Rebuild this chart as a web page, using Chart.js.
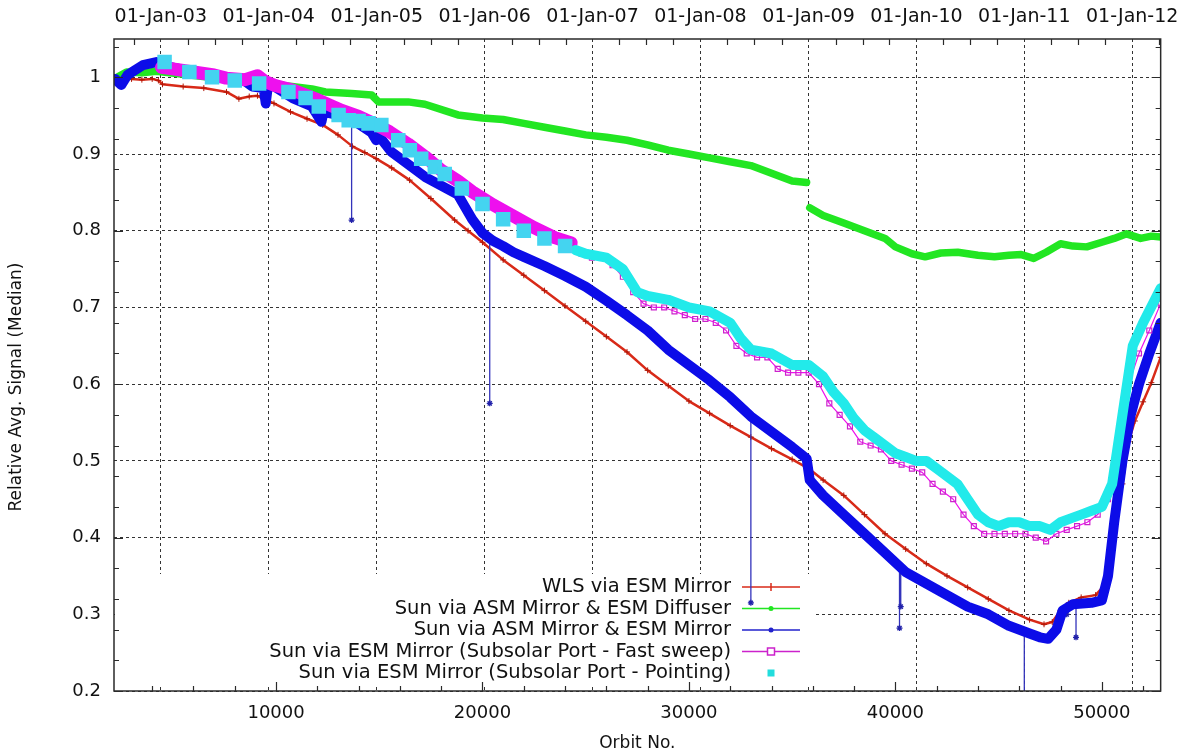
<!DOCTYPE html>
<html>
<head>
<meta charset="utf-8">
<title>SCIAMACHY light path monitoring</title>
<script src="https://cdn.jsdelivr.net/npm/chart.js@4.4.0/dist/chart.umd.min.js"></script>
<style>
  html, body { margin: 0; padding: 0; background: #fff; }
  #chart { display: block; }
</style>
</head>
<body>
<canvas id="chart" width="1190" height="755"></canvas>
<script>
// Relative median signal per light path vs. orbit number.
// null marks a data gap (instrument decontamination early 2009).

const wlsOrbit = [2450, 3000, 3500, 4000, 4300, 4500, 5500, 6500, 7600, 8200, 8700, 9100, 9400, 9900,
  10700, 11500, 12260, 13000, 13700, 14300, 14850, 15600, 16470, 17500, 18650, 19300, 20000, 21000,
  22000, 23000, 24000, 25000, 26000, 27000, 28000, 29000, 30000, 31000, 32000, 33000, 34000, 35000,
  35800, 36500, 37500, 38500, 39500, 40500, 41500, 42500, 43500, 44500, 45500, 46500, 47200, 47600,
  48000, 48400, 49000, 49700, 50200, 50600, 51000, 51300, 51600, 52000, 52400, 52850];
const wlsSignal = [1.0, 0.998, 0.997, 0.998, 0.996, 0.991, 0.988, 0.986, 0.981, 0.972, 0.975, 0.976, 0.972, 0.966,
  0.955, 0.946, 0.938, 0.925, 0.910, 0.902, 0.894, 0.882, 0.866, 0.842, 0.814, 0.800, 0.785, 0.762,
  0.742, 0.722, 0.702, 0.682, 0.662, 0.642, 0.618, 0.598, 0.578, 0.562, 0.546, 0.531, 0.516, 0.502,
  0.490, 0.475, 0.455, 0.430, 0.405, 0.385, 0.366, 0.350, 0.335, 0.320, 0.305, 0.293, 0.287, 0.290,
  0.305, 0.315, 0.322, 0.325, 0.340, 0.400, 0.470, 0.525, 0.552, 0.577, 0.602, 0.635];

const diffuserOrbit = [2300, 2760, 3500, 4200, 10770, 11740, 12390, 13660, 14630, 14960, 16400, 17210, 18810,
  20000, 21000, 22000, 23000, 24000, 25000, 26000, 27000, 28000, 29000, 30000, 31000, 32000, 33000,
  34000, 35000, 35700, 35780, 35850, 36500, 37500, 38500, 39500, 40000, 40800, 41440, 42200, 43020,
  44000, 44800, 45500, 46100, 46700, 47300, 48000, 48600, 49270, 50000, 50600, 51200, 51880, 52400, 52850];
const diffuserSignal = [1.0, 1.007, 1.006, 1.008, 0.988, 0.985, 0.981, 0.979, 0.977, 0.968, 0.968, 0.965, 0.951,
  0.947, 0.945, 0.940, 0.935, 0.930, 0.925, 0.922, 0.918, 0.912, 0.905, 0.900, 0.895, 0.890, 0.885,
  0.875, 0.865, 0.863, null, 0.830, 0.820, 0.810, 0.800, 0.790, 0.779, 0.770, 0.766, 0.771, 0.772,
  0.768, 0.766, 0.768, 0.769, 0.764, 0.772, 0.783, 0.780, 0.779, 0.785, 0.790, 0.796, 0.790, 0.793, 0.792];

const mirrorOrbit = [2200, 2500, 2800, 3550, 4200, 4600, 5500, 6500, 7500, 8500, 8850, 9400, 9500, 9600, 9800,
  10800, 11740, 12200, 12300, 13520, 14630, 14850, 15000, 15580, 17230, 18810, 19500, 20000, 20500,
  21000, 21500, 22000, 23000, 24000, 25000, 26000, 27000, 28000, 29000, 30000, 31000, 32000, 33000,
  34000, 35000, 35700, 35850, 36500, 37500, 38500, 39500, 40500, 41500, 42500, 43500, 44500, 45500,
  46500, 47000, 47400, 47800, 48100, 48600, 49500, 50000, 50300, 50600, 51000, 51400, 51800, 52300, 52850];
const mirrorSignal = [0.998, 0.99, 1.003, 1.016, 1.02, 1.015, 1.01, 1.005, 1.0, 0.995, 0.988, 0.986, 0.966, 0.988, 0.99,
  0.973, 0.962, 0.942, 0.955, 0.948, 0.928, 0.918, 0.923, 0.903, 0.870, 0.847, 0.815, 0.797, 0.787,
  0.780, 0.772, 0.766, 0.754, 0.741, 0.727, 0.709, 0.690, 0.670, 0.645, 0.625, 0.605, 0.583, 0.558,
  0.538, 0.518, 0.503, 0.475, 0.455, 0.430, 0.405, 0.380, 0.355, 0.340, 0.325, 0.310, 0.300, 0.285,
  0.275, 0.270, 0.268, 0.280, 0.305, 0.313, 0.315, 0.318, 0.350, 0.420, 0.500, 0.560, 0.600, 0.640, 0.680];

// single-orbit outliers of the mirror channel: orbit, band level, dropped value
const outlierOrbit = [13660, 20350, 33000, 40200, 40260, 46245, 48300, 48750];
const outlierLevel = [0.935, 0.790, 0.555, 0.365, 0.363, 0.280, 0.312, 0.314];
const outlierSignal = [0.814, 0.575, 0.315, 0.282, 0.310, 0.190, 0.300, 0.270];

const sweepOrbit = [4450, 5000, 6000, 7000, 7580, 8500, 9100, 9500, 10000, 10840, 12000, 13180, 14000, 14800,
  15500, 16400, 17200, 18000, 18810, 19500, 20500, 21500, 22500, 23500, 24300,
  24800, 25300, 25800, 26300, 26800, 27300, 27800, 28300, 28800, 29300, 29800, 30300, 30800, 31300,
  31800, 32300, 32800, 33300, 33800, 34300, 34800, 35300, 35800, 36300, 36800, 37300, 37800, 38300,
  38800, 39300, 39800, 40300, 40800, 41300, 41800, 42300, 42800, 43300, 43800, 44300, 44800, 45300,
  45800, 46300, 46800, 47300, 47800, 48300, 48800, 49300, 49800, 50300, 50800, 51300, 51800, 52300, 52850];
const sweepSignal = [1.013, 1.011, 1.007, 1.003, 0.999, 0.997, 1.002, 0.994, 0.989, 0.983, 0.971, 0.957, 0.949, 0.939,
  0.929, 0.913, 0.897, 0.879, 0.865, 0.851, 0.834, 0.819, 0.804, 0.791, 0.784,
  0.770, 0.765, 0.765, 0.755, 0.740, 0.720, 0.705, 0.700, 0.700, 0.695, 0.690, 0.685, 0.685, 0.680,
  0.670, 0.650, 0.640, 0.635, 0.635, 0.620, 0.615, 0.615, 0.615, 0.600, 0.575, 0.560, 0.545, 0.525,
  0.520, 0.515, 0.500, 0.495, 0.490, 0.485, 0.470, 0.460, 0.450, 0.430, 0.415, 0.405, 0.405, 0.405,
  0.405, 0.405, 0.400, 0.395, 0.405, 0.410, 0.415, 0.420, 0.430, 0.450, 0.520, 0.600, 0.640, 0.670, 0.705];

const pointingOrbit = [4600, 5800, 6900, 8000, 9180, 10600, 11430, 12070, 13030, 13520, 14000, 14480, 15100, 15920, 16480,
  17030, 17690, 18170, 19000, 20000, 21000, 22000, 23000, 24000, 24500, 25000, 26000, 26800, 27500,
  28000, 29000, 30000, 31000, 32000, 32500, 33000, 34000, 35000, 35800, 36500, 37000, 37500, 38000,
  38500, 39000, 39500, 40000, 40500, 41000, 41500, 42000, 42500, 43000, 43500, 44000, 44500, 45000,
  45500, 46000, 46500, 47000, 47500, 48000, 48500, 49000, 49500, 50000, 50500, 51000, 51500, 52000, 52850];
const pointingSignal = [1.02, 1.007, 1.0, 0.996, 0.992, 0.981, 0.973, 0.962, 0.951, 0.944, 0.943, 0.940, 0.938, 0.918, 0.905,
  0.894, 0.883, 0.874, 0.855, 0.835, 0.815, 0.800, 0.790, 0.780, 0.775, 0.770, 0.765, 0.750, 0.720,
  0.715, 0.710, 0.700, 0.695, 0.680, 0.660, 0.645, 0.640, 0.625, 0.625, 0.610, 0.590, 0.575, 0.555,
  0.540, 0.530, 0.520, 0.510, 0.505, 0.500, 0.500, 0.490, 0.480, 0.470, 0.450, 0.430, 0.420, 0.415,
  0.420, 0.420, 0.415, 0.415, 0.410, 0.420, 0.425, 0.430, 0.435, 0.440, 0.470, 0.560, 0.650, 0.680, 0.725];

const orbitTicks = [10000, 20000, 30000, 40000, 50000];
const signalTicks = [0.2, 0.3, 0.4, 0.5, 0.6, 0.7, 0.8, 0.9, 1.0];
const yearOrbits = [4415, 9640, 14880, 20105, 25330, 30555, 35795, 41020, 46245, 51470];
const yearLabels = ['01-Jan-03', '01-Jan-04', '01-Jan-05', '01-Jan-06', '01-Jan-07',
  '01-Jan-08', '01-Jan-09', '01-Jan-10', '01-Jan-11', '01-Jan-12'];

const ORBIT_MIN = 2150;
const ORBIT_MAX = 52850;
const DENSE_END = 24300; // fast-sweep measurements thin out after this orbit
const FONT = 'DejaVu Sans';
const INK = '#111';

const toPoints = (xs, ys) => xs.map((x, i) => ({ x, y: ys[i] }));

const outlierPoints = [];
outlierOrbit.forEach((o, i) => {
  outlierPoints.push({ x: o, y: outlierLevel[i] }, { x: o, y: outlierSignal[i] }, { x: o, y: null });
});

// white key box plus entries, drawn under the data but over the grid
const keyPlugin = {
  id: 'key',
  beforeDatasetsDraw(chart) {
    const { ctx, chartArea } = chart;
    ctx.save();
    ctx.fillStyle = '#fff';
    ctx.fillRect(chartArea.left + 1, 574, 812 - chartArea.left, 110);
    ctx.font = `19.5px "${FONT}"`;
    ctx.textAlign = 'right';
    ctx.textBaseline = 'middle';
    let row = 0;
    chart.data.datasets.forEach((ds) => {
      if (!ds.label) return;
      const y = 587 + row * 21.5;
      ctx.fillStyle = INK;
      ctx.fillText(ds.label, 731, y);
      ctx.strokeStyle = ds.keyColor;
      ctx.fillStyle = ds.keyColor;
      ctx.lineWidth = 1.5;
      if (ds.keyLine) {
        ctx.beginPath();
        ctx.moveTo(742, y);
        ctx.lineTo(800, y);
        ctx.stroke();
      }
      const mx = 771;
      ctx.beginPath();
      if (ds.keyMark === 'cross') {
        ctx.moveTo(mx, y - 4); ctx.lineTo(mx, y + 4);
        ctx.stroke();
      } else if (ds.keyMark === 'star') {
        ctx.arc(mx, y, 2.5, 0, Math.PI * 2);
        ctx.fill();
      } else if (ds.keyMark === 'box') {
        ctx.fillStyle = '#fff';
        ctx.fillRect(mx - 3.5, y - 3.5, 7, 7);
        ctx.strokeRect(mx - 3.5, y - 3.5, 7, 7);
      } else if (ds.keyMark === 'square') {
        ctx.fillRect(mx - 3.5, y - 3.5, 7, 7);
      }
      row++;
    });
    ctx.restore();
  }
};

// plot border with inward tick marks on all four sides, plus the axis titles
const framePlugin = {
  id: 'frame',
  afterDatasetsDraw(chart) {
    const { ctx, chartArea: a, scales } = chart;
    const x = scales.x;
    const y = scales.y;
    ctx.save();
    ctx.strokeStyle = '#2a2a2a';
    ctx.lineWidth = 1.5;
    ctx.strokeRect(a.left, a.top, a.right - a.left, a.bottom - a.top);
    ctx.lineWidth = 1.2;
    ctx.beginPath();
    for (let v = 4000; v < ORBIT_MAX; v += 2000) {
      const px = Math.round(x.getPixelForValue(v)) + 0.5;
      const len = v % 10000 === 0 ? 9 : 5;
      ctx.moveTo(px, a.bottom);
      ctx.lineTo(px, a.bottom - len);
    }
    for (let i = -1; i < yearOrbits.length; i++) {
      const start = i < 0 ? yearOrbits[0] - (yearOrbits[1] - yearOrbits[0]) : yearOrbits[i];
      const span = i + 1 < yearOrbits.length ? yearOrbits[i + 1] - start : yearOrbits[i] - yearOrbits[i - 1];
      for (let q = 1; q < 4; q++) {
        const v = start + span * q / 4;
        if (v <= ORBIT_MIN || v >= ORBIT_MAX) continue;
        const px = Math.round(x.getPixelForValue(v)) + 0.5;
        ctx.moveTo(px, a.top);
        ctx.lineTo(px, a.top + 6);
      }
    }
    for (let k = 10; k <= 52; k += 2) {
      const v = k / 50;
      const py = Math.round(y.getPixelForValue(v)) + 0.5;
      const len = k % 5 === 0 ? 9 : 5;
      ctx.moveTo(a.left, py);
      ctx.lineTo(a.left + len, py);
      ctx.moveTo(a.right, py);
      ctx.lineTo(a.right - len, py);
    }
    ctx.stroke();

    ctx.fillStyle = INK;
    ctx.font = `17px "${FONT}"`;
    ctx.textAlign = 'center';
    ctx.textBaseline = 'middle';
    ctx.fillText('Orbit No.', (a.left + a.right) / 2, 744);
    ctx.translate(17, (a.top + a.bottom) / 2 + 22);
    ctx.rotate(-Math.PI / 2);
    ctx.fillText('Relative Avg. Signal (Median)', 0, 0);
    ctx.restore();
  }
};

const datasets = [
  {
    label: 'WLS via ESM Mirror',
    data: toPoints(wlsOrbit, wlsSignal),
    borderColor: '#d82a18',
    borderWidth: 2.5,
    pointStyle: 'cross',
    pointRadius: 3,
    pointBorderWidth: 1,
    pointBorderColor: '#b01808',
    keyColor: '#d82a18', keyLine: true, keyMark: 'cross',
    order: 5,
  },
  {
    label: 'Sun via ASM Mirror & ESM Diffuser',
    data: toPoints(diffuserOrbit, diffuserSignal),
    borderColor: '#22e622',
    borderWidth: 7.5,
    pointRadius: 0,
    keyColor: '#22e622', keyLine: true, keyMark: 'star',
    order: 4,
  },
  {
    label: 'Sun via ASM Mirror & ESM Mirror',
    data: toPoints(mirrorOrbit, mirrorSignal),
    borderColor: '#0c0ce8',
    borderWidth: 10,
    pointRadius: 0,
    keyColor: '#2222cc', keyLine: true, keyMark: 'star',
    order: 3,
  },
  {
    data: outlierPoints,
    borderColor: '#3333bb',
    borderWidth: 1.3,
    pointStyle: 'star',
    pointRadius: (c) => (c.dataIndex % 3 === 1 ? 3 : 0),
    pointBorderColor: '#2222aa',
    order: 3,
  },
  {
    label: 'Sun via ESM Mirror (Subsolar Port - Fast sweep)',
    data: toPoints(sweepOrbit, sweepSignal),
    borderColor: '#ee10ee',
    borderWidth: 1.2,
    segment: {
      borderWidth: (c) => (c.p0.parsed.x < DENSE_END ? 13 : 1.2),
    },
    pointStyle: 'rect',
    pointRadius: (c) => (c.parsed && c.parsed.x >= DENSE_END ? 3.5 : 0),
    pointBackgroundColor: 'rgba(255,255,255,0)',
    pointBorderColor: '#cc22cc',
    pointBorderWidth: 1.2,
    keyColor: '#cc22cc', keyLine: true, keyMark: 'box',
    order: 2,
  },
  {
    label: 'Sun via ESM Mirror (Subsolar Port - Pointing)',
    data: toPoints(pointingOrbit, pointingSignal),
    borderColor: '#22eaea',
    borderWidth: 10,
    segment: {
      borderColor: (c) => (c.p0.parsed.x < DENSE_END ? 'rgba(0,0,0,0)' : '#22eaea'),
    },
    pointStyle: 'rect',
    pointRadius: (c) => (c.parsed && c.parsed.x < DENSE_END ? 3.2 : 0),
    pointBackgroundColor: '#44d4f0',
    pointBorderColor: '#44d4f0',
    keyColor: '#22dddd', keyLine: false, keyMark: 'square',
    order: 1,
  },
];

const tickFont = { family: FONT, size: 18 };

new Chart(document.getElementById('chart'), {
  type: 'line',
  data: { datasets },
  options: {
    responsive: false,
    animation: false,
    devicePixelRatio: 1,
    layout: { padding: { left: 0, right: 23, top: 0, bottom: 0 }, autoPadding: false },
    plugins: {
      legend: { display: false },
      tooltip: { enabled: false },
    },
    elements: {
      line: { tension: 0, borderCapStyle: 'round', borderJoinStyle: 'round' },
    },
    scales: {
      x: {
        type: 'linear',
        position: 'bottom',
        min: ORBIT_MIN,
        max: ORBIT_MAX,
        afterBuildTicks: (s) => { s.ticks = orbitTicks.map((value) => ({ value })); },
        afterFit: (s) => { s.height = 64; },
        grid: { display: false, drawTicks: false },
        border: { display: false },
        ticks: { color: INK, font: tickFont, padding: 12, maxRotation: 0, callback: (v) => String(v) },
      },
      xTop: {
        type: 'linear',
        position: 'top',
        min: ORBIT_MIN,
        max: ORBIT_MAX,
        afterBuildTicks: (s) => { s.ticks = yearOrbits.map((value) => ({ value })); },
        afterFit: (s) => { s.height = 39; },
        grid: { display: true, drawOnChartArea: true, drawTicks: false, color: '#333', lineWidth: 1 },
        border: { display: false, dash: [3, 3] },
        ticks: {
          color: INK, font: { family: FONT, size: 19 }, padding: 11, maxRotation: 0, autoSkip: false,
          callback: (v, i) => yearLabels[i],
        },
      },
      y: {
        type: 'linear',
        position: 'left',
        min: 0.2,
        max: 1.05,
        afterBuildTicks: (s) => { s.ticks = signalTicks.map((value) => ({ value })); },
        afterFit: (s) => { s.width = 114; },
        grid: { color: '#333', lineWidth: 1, drawTicks: false },
        border: { display: false, dash: [3, 3] },
        ticks: { color: INK, font: tickFont, padding: 13, callback: (v) => (v === 1 ? '1' : v.toFixed(1)) },
      },
    },
  },
  plugins: [keyPlugin, framePlugin],
});
</script>
</body>
</html>
